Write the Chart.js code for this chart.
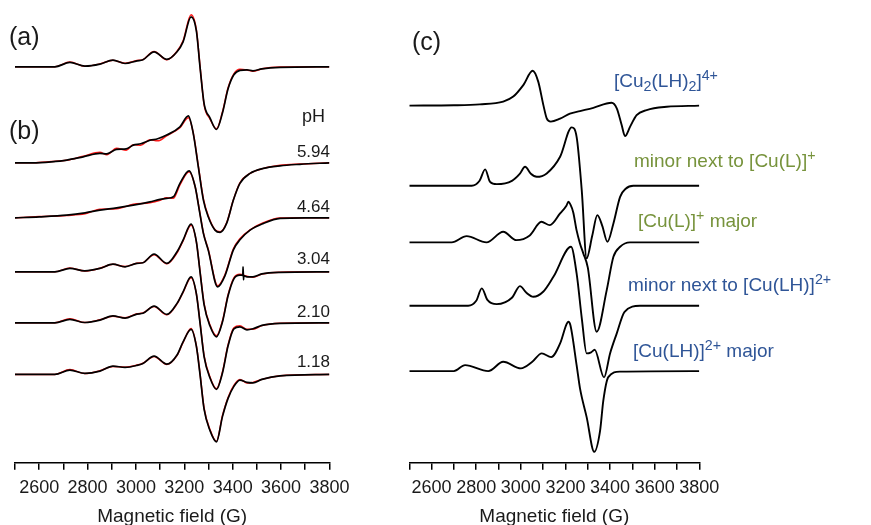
<!DOCTYPE html>
<html>
<head>
<meta charset="utf-8">
<script src="https://cdn.jsdelivr.net/npm/chart.js@4.4.1/dist/chart.umd.min.js"></script>
<style>
  html, body { margin: 0; padding: 0; background: #fff; overflow: hidden; width: 871px; height: 525px; }
  body { position: relative; font-family: 'Liberation Sans', Arial, sans-serif; color: #1a1a1a; }
  canvas { position: absolute; top: 0; }
  #leftChart { left: 0; }
  #rightChart { left: 380px; }
  .t { position: absolute; white-space: nowrap; line-height: 1; }
  .panel { font-size: 25px; }
  .ph { font-size: 17px; text-align: right; width: 60px; }
  .sp { font-size: 19px; }
  .blue { color: #2f5597; }
  .green { color: #77933c; }
  sub, sup { font-size: 0.75em; line-height: 0; position: relative; vertical-align: baseline; }
  sub { top: 0.3em; }
  sup { top: -0.5em; }
</style>
</head>
<body>
<canvas id="leftChart" width="360" height="526"></canvas>
<canvas id="rightChart" width="491" height="526"></canvas>

<div class="t panel" style="left:9px;top:23.6px">(a)</div>
<div class="t panel" style="left:9px;top:117.8px">(b)</div>
<div class="t panel" style="left:412px;top:28.6px">(c)</div>

<div class="t ph" style="left:265px;top:107px;font-size:18px">pH</div>
<div class="t ph" style="left:270px;top:143.4px">5.94</div>
<div class="t ph" style="left:270px;top:197.7px">4.64</div>
<div class="t ph" style="left:270px;top:250.4px">3.04</div>
<div class="t ph" style="left:270px;top:303.4px">2.10</div>
<div class="t ph" style="left:270px;top:353.4px">1.18</div>

<div class="t sp blue" style="left:614px;top:70.8px">[Cu<sub>2</sub>(LH)<sub>2</sub>]<sup>4+</sup></div>
<div class="t sp green" style="left:634px;top:150.8px">minor next to [Cu(L)]<sup>+</sup></div>
<div class="t sp green" style="left:638px;top:210.8px">[Cu(L)]<sup>+</sup> major</div>
<div class="t sp blue" style="left:628px;top:274.8px">minor next to [Cu(LH)]<sup>2+</sup></div>
<div class="t sp blue" style="left:633px;top:340.8px">[Cu(LH)]<sup>2+</sup> major</div>

<script>
// magnetic field (G) and intensities (arbitrary units)

// panel (a)/(b): experimental (black) and simulated (red)
const fieldsLow = [2500, 2665, 2727, 2789, 2851, 2905, 2955, 3004, 3029, 3075, 3128, 3170, 3195, 3228, 3250, 3265, 3282, 3306, 3333, 3358, 3381, 3405, 3430, 3459, 3484, 3521, 3596, 3800];

const aBlack = [0, 0, 4.4, 0.7, 2.7, 6.7, 3.3, 6, 7, 15, 7.4, 15, 25, 50, 36, 0, -37, -51, -62.7, -46, -22, -8, -3.5, -3, -4, -2, -0.5, 0];
const aRed = [0, 0, 4.8, 0.5, 2.9, 6.5, 3.5, 6.2, 7.2, 15.3, 7, 15.5, 26, 52, 37, 1, -38, -52, -62, -45, -21, -7, -2.5, -3.2, -4.5, -2, -0.3, 0];

const fields594 = [2500, 2574, 2650, 2714, 2782, 2851, 2880, 2920, 2960, 2989, 3020, 3058, 3090, 3127, 3182, 3217, 3237, 3258, 3279, 3299, 3327, 3348, 3375, 3403, 3430, 3472, 3527, 3596, 3678, 3800];
const black594 = [0, 0, 1, 2.7, 6, 9.4, 9, 13.4, 14, 17.7, 19, 22.5, 24, 27.7, 36, 47, 29.4, -4, -37.3, -54, -67.3, -69.5, -60.6, -37.3, -20.6, -10.6, -5.6, -3, -1.5, 0];
const red594 = [0, 0, 1.2, 2.5, 6.5, 10.5, 8, 14.5, 12.5, 18, 17.5, 23, 22, 27, 35, 45, 30, -3, -36, -53, -67, -69, -60, -37, -20, -10.6, -5.6, -2.5, -1.2, 0];

const fields464 = [2500, 2600, 2714, 2790, 2851, 2920, 2989, 3058, 3100, 3127, 3155, 3182, 3220, 3245, 3262, 3279, 3299, 3338, 3368, 3403, 3430, 3472, 3527, 3596, 3700, 3800];
const black464 = [0, 1, 2.7, 5, 7.7, 10, 12.7, 16, 18.4, 19.4, 21, 34.4, 47, 31, 7.7, -15.6, -32.3, -69, -58, -32, -22, -12.3, -5.6, -0.6, 0, 0];
const red464 = [0, 1.2, 2.4, 4, 8.5, 9, 13.5, 15, 17.5, 20, 19.5, 33, 46, 31, 8.5, -15, -31.5, -68, -57, -31, -21, -12, -5, -0.3, 0, 0];

const fields304 = [2500, 2665, 2727, 2789, 2851, 2905, 2955, 3004, 3029, 3075, 3128, 3170, 3195, 3228, 3250, 3265, 3282, 3306, 3333, 3358, 3381, 3405, 3430, 3442, 3443, 3445, 3446, 3459, 3484, 3521, 3596, 3800];
const black304 = [0, 0, 3.4, 1, 3.4, 7.7, 5, 8.4, 9, 17.7, 8.4, 20, 31.7, 47.7, 30, 0, -33, -54, -65, -50, -24, -7, -3.3, -3.5, 5, -8, -3.8, -5, -5, -2, -0.5, 0];
const red304 = [0, 0, 3.8, 0.8, 3.6, 7.5, 5.2, 8.6, 9.2, 17, 8, 19, 31, 46.5, 30, 1, -32, -53, -64, -49, -23, -6, -2.5, -4.5, -5.5, -2.3, -0.4, 0];

const black210 = [0, 0, 3.4, 0.3, 2.7, 7, 4.7, 8.7, 9.5, 16.7, 8.4, 19.4, 31, 46, 29, 0, -34, -55, -66.6, -50, -23, -6, -4, -7, -6, -2.6, -0.5, 0];
const red210 = [0, 0, 4, 0.2, 3, 6.6, 5, 9, 9.8, 16.2, 8, 19, 30.5, 45, 29, 1, -33, -54, -66, -49, -22, -5, -3, -6.5, -6.5, -2.8, -0.5, 0];

const black118 = [0, 0, 4.3, 1, 3.3, 8.3, 7, 9, 11, 18.3, 10.3, 19.4, 32.6, 45, 28, 0, -35, -56, -67.4, -42, -24, -12, -5.7, -8, -8.5, -5, -1.5, 0];
const red118 = [0, 0, 4.8, 0.8, 3.6, 8, 7.2, 9.3, 11.2, 18, 10, 19, 32, 46, 28.5, 1, -34, -55, -67, -41, -23, -11, -5, -8.5, -8, -5, -1.3, 0];

// vertical stacking offsets of the spectra: (a), 5.94, 4.64, 3.04, 2.10, 1.18
const offsetsLeft = [396, 300, 245, 191, 140, 88.4];

// panel (c): simulated components
const fieldsCu2 = [2500, 2700, 2816, 2921, 2966, 3011, 3053, 3078, 3101, 3116, 3134, 3176, 3220, 3265, 3325, 3407, 3430, 3452, 3467, 3490, 3519, 3564, 3654, 3800];
const cu2 = [0, 0.3, 1.2, 4, 9, 20.5, 34.8, 24, 0.5, -12.8, -16, -13, -8, -5.5, -2.2, 2.8, -2.8, -19.5, -30.5, -21, -9.5, -4.5, -1.2, 0];

const fieldsMinorL = [2500, 2780, 2815, 2840, 2862, 2892, 2960, 2995, 3019, 3045, 3071, 3116, 3176, 3228, 3250, 3273, 3295, 3320, 3343, 3365, 3388, 3415, 3445, 3470, 3504, 3800];
const minorL = [0, 0, 5, 16.4, 4, 1.7, 5, 12, 19, 12, 9, 12.4, 29, 58.4, 49, -4.3, -72.6, -50, -29.3, -40, -56, -37.6, -11, -3, 0, 0];

const fieldsMajorL = [2500, 2690, 2757, 2846, 2921, 2980, 3040, 3092, 3130, 3176, 3205, 3213, 3222, 3235, 3250, 3265, 3280, 3300, 3340, 3385, 3415, 3445, 3489, 3600, 3800];
const majorL = [0, 0, 6.3, 0, 10.6, 2.3, 7, 20.6, 17.3, 29, 37, 40.6, 38, 30, 12, -1, -11, -25, -89.4, -47.7, -14.4, -4.4, 0, 0, 0];

const fieldsMinorLH = [2500, 2764, 2800, 2825, 2850, 2892, 2960, 2996, 3025, 3056, 3100, 3146, 3225, 3250, 3274, 3295, 3315, 3331, 3373, 3400, 3430, 3465, 3534, 3800];
const minorLH = [0, 0, 5, 17.4, 6, 1.7, 8, 19.7, 13, 9, 14, 29, 59, 32.4, -14, -47.6, -46.5, -44, -71.6, -47.6, -27.6, -6, 0, 0];

const fieldsMajorLH = [2500, 2700, 2750, 2854, 2921, 3000, 3050, 3094, 3136, 3176, 3205, 3213, 3222, 3250, 3265, 3295, 3329, 3355, 3370, 3392, 3445, 3800];
const majorLH = [0, 0, 6, 0, 9.3, 2.7, 9, 17.7, 14, 27.7, 47, 49.3, 46, 6, -17, -46, -80.7, -60, -29, -6, -0.5, 0];

// offsets: Cu2(LH)2, minor CuL, CuL major, minor CuLH, CuLH major
const offsetsRight = [357.2, 277, 220.4, 157, 91.7];

const tickValues = [2600, 2800, 3000, 3200, 3400, 3600, 3800];

Chart.defaults.font.family = "'Liberation Sans', Arial, sans-serif";
Chart.defaults.color = '#1a1a1a';

const toPoints = (fields, vals, off) => fields.map((f, i) => ({ x: f, y: off + vals[i] }));

const line = (data, color, width, order) => ({
    data: data,
    borderColor: color,
    borderWidth: width,
    pointRadius: 0,
    fill: false,
    cubicInterpolationMode: 'monotone',
    order: order,
});

const makeOptions = (padLeft, padRight) => ({
    responsive: false,
    animation: false,
    layout: { padding: { left: padLeft, right: padRight, top: 0, bottom: 0 } },
    plugins: { legend: { display: false }, tooltip: { enabled: false } },
    scales: {
        x: {
            type: 'linear',
            min: 2500,
            max: 3800,
            border: { display: true, color: '#000', width: 1.5 },
            grid: { drawOnChartArea: false, drawTicks: true, tickLength: 7, color: '#000', lineWidth: 1.5 },
            ticks: {
                stepSize: 100,
                padding: 7.8,
                maxRotation: 0,
                autoSkip: false,
                font: { size: 18 },
                color: '#1a1a1a',
                callback: (v) => tickValues.includes(v) ? String(v) : '',
            },
            title: {
                display: true,
                text: 'Magnetic field (G)',
                color: '#1a1a1a',
                font: { size: 19, lineHeight: 1 },
                padding: { top: 0, bottom: 0 },
            },
        },
        y: { display: false, min: 0, max: 462.8 },
    },
});

// left panel
const leftSets = [
    [fieldsLow, aBlack, fieldsLow, aRed],
    [fields594, black594, fields594, red594],
    [fields464, black464, fields464, red464],
    [fields304, black304, fieldsLow, red304],
    [fieldsLow, black210, fieldsLow, red210],
    [fieldsLow, black118, fieldsLow, red118],
];
const leftDatasets = [];
leftSets.forEach((s, i) => {
    leftDatasets.push(line(toPoints(s[2], s[3], offsetsLeft[i]), '#ff1a1a', 1.5, 1));
    leftDatasets.push(line(toPoints(s[0], s[1], offsetsLeft[i]), '#000000', 1.7, 0));
});

new Chart(document.getElementById('leftChart'), {
    type: 'line',
    data: { datasets: leftDatasets },
    options: makeOptions(15, 30.6),
});

// right panel
const rightSets = [
    [fieldsCu2, cu2],
    [fieldsMinorL, minorL],
    [fieldsMajorL, majorL],
    [fieldsMinorLH, minorLH],
    [fieldsMajorLH, majorLH],
];
new Chart(document.getElementById('rightChart'), {
    type: 'line',
    data: { datasets: rightSets.map((s, i) => line(toPoints(s[0], s[1], offsetsRight[i]), '#000000', 1.9, 0)) },
    options: makeOptions(29.3, 171.7),
});
</script>
</body>
</html>
